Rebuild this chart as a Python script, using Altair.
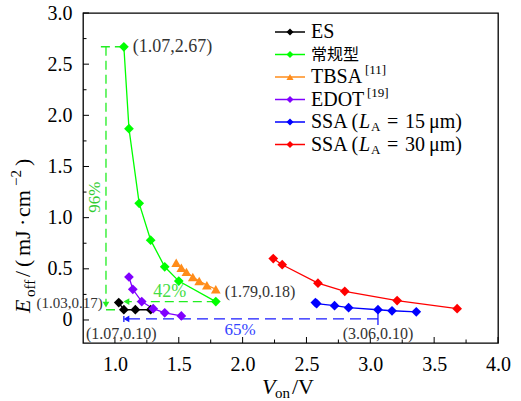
import altair as alt
import pandas as pd

# ---------------- data: turn-on voltage V_on (V) vs turn-off loss E_off (mJ/cm^2)
series_names = ["ES", "常规型", "TBSA", "EDOT", "SSA15", "SSA30"]
series_colors = ["#000000", "#00ff00", "#ff8c1a", "#8000ff", "#0000ff", "#ff0000"]
series_shapes = ["diamond", "diamond", "triangle-up", "diamond", "diamond", "diamond"]

es_von = [1.03, 1.07, 1.16, 1.28]
es_eoff = [0.17, 0.10, 0.10, 0.10]
conv_von = [1.07, 1.11, 1.19, 1.28, 1.39, 1.50, 1.79]
conv_eoff = [2.67, 1.87, 1.14, 0.78, 0.52, 0.38, 0.18]
tbsa_von = [1.48, 1.52, 1.56, 1.61, 1.66, 1.72, 1.79]
tbsa_eoff = [0.56, 0.51, 0.47, 0.42, 0.38, 0.34, 0.30]
edot_von = [1.11, 1.14, 1.21, 1.30, 1.39, 1.52]
edot_eoff = [0.42, 0.30, 0.18, 0.11, 0.07, 0.04]
ssa15_von = [2.57, 2.58, 2.72, 2.83, 3.06, 3.17, 3.36]
ssa15_eoff = [0.17, 0.16, 0.14, 0.12, 0.10, 0.09, 0.08]
ssa30_von = [2.24, 2.31, 2.59, 2.80, 3.21, 3.68]
ssa30_eoff = [0.60, 0.54, 0.36, 0.28, 0.19, 0.11]

x_ticks = [1.0, 1.5, 2.0, 2.5, 3.0, 3.5, 4.0]
x_minor = [1.25, 1.75, 2.25, 2.75, 3.25, 3.75]
y_ticks = [0.0, 0.5, 1.0, 1.5, 2.0, 2.5, 3.0]
y_minor = [0.25, 0.75, 1.25, 1.75, 2.25, 2.75]

# ---------------- layout
W, H = 415, 330
X_DOM = [0.75, 4.0]
Y_DOM = [-0.225, 3.0]
SERIF = "Liberation Serif"
CJK = "Noto Sans CJK SC"

xs = alt.Scale(domain=X_DOM, nice=False, zero=False)
ys = alt.Scale(domain=Y_DOM, nice=False, zero=False)

x_axis = alt.Axis(values=x_ticks, ticks=False, domain=False, grid=False, title=None,
                  labelFont=SERIF, labelFontSize=20, labelColor="#000", labelPadding=11,
                  labelOverlap=False, labelFlush=False, labelBound=False,
                  labelExpr="format(datum.value, '.1f')")
y_axis = alt.Axis(values=y_ticks, ticks=False, domain=False, grid=False, title=None,
                  labelFont=SERIF, labelFontSize=20, labelColor="#000", labelPadding=11,
                  labelOverlap=False, labelFlush=False, labelBound=False,
                  labelExpr="datum.value == 0 ? '0' : format(datum.value, '.1f')")


def px2x(px):
    return X_DOM[0] + px / W * (X_DOM[1] - X_DOM[0])


def px2y(py):
    return Y_DOM[1] - py / H * (Y_DOM[1] - Y_DOM[0])


def X(field):
    return alt.X(field, type="quantitative", scale=xs, axis=x_axis)


def Y(field):
    return alt.Y(field, type="quantitative", scale=ys, axis=y_axis)


rows = []
for name, v, e in [
    ("ES", es_von, es_eoff),
    ("常规型", conv_von, conv_eoff),
    ("TBSA", tbsa_von, tbsa_eoff),
    ("EDOT", edot_von, edot_eoff),
    ("SSA15", ssa15_von, ssa15_eoff),
    ("SSA30", ssa30_von, ssa30_eoff),
]:
    for i, (a, b) in enumerate(zip(v, e)):
        rows.append({"series": name, "von": a, "eoff": b, "k": i})
df = pd.DataFrame(rows)

color = alt.Color("series:N", scale=alt.Scale(domain=series_names, range=series_colors), legend=None)
shape = alt.Shape("series:N", scale=alt.Scale(domain=series_names, range=series_shapes), legend=None)

base = alt.Chart(df)
lines = base.mark_line(strokeWidth=1.3).encode(
    x=X("von"), y=Y("eoff"), color=color, detail="series:N", order="k:Q")
points = base.mark_point(filled=True, opacity=1, size=95).encode(
    x=X("von"), y=Y("eoff"), color=color, shape=shape)


# ---------------- inward ticks (major and minor)
def tick_layer(vals, axis, length):
    d = pd.DataFrame({"t": vals})
    if axis == "y":
        return alt.Chart(d).mark_rule(color="#000", strokeWidth=1).encode(
            y=Y("t"), x=alt.value(0), x2=alt.value(length))
    return alt.Chart(d).mark_rule(color="#000", strokeWidth=1).encode(
        x=X("t"), y=alt.value(H), y2=alt.value(H - length))


ticks = [tick_layer(y_ticks, "y", 6), tick_layer(y_minor, "y", 3.5),
         tick_layer(x_ticks, "x", 6), tick_layer(x_minor, "x", 3.5)]

# ---------------- reduction guides and arrows
green_dash = pd.DataFrame({
    "x": [0.89, 0.93, 0.93, 1.79],
    "x2": [1.07, 0.93, 1.07, 1.10],
    "y": [2.67, 2.67, 0.10, 0.18],
    "y2": [2.67, 0.16, 0.10, 0.18],
})
blue_dash = pd.DataFrame({"x": [3.06], "x2": [1.10], "y": [0.01], "y2": [0.01]})
blue_solid = pd.DataFrame({"x": [3.06, 1.07], "x2": [3.06, 1.07], "y": [0.10, -0.02], "y2": [-0.05, 0.04]})


def seg(d, col, dash=None, width=1.3):
    kw = dict(color=col, strokeWidth=width)
    if dash:
        kw["strokeDash"] = dash
    return alt.Chart(d).mark_rule(**kw).encode(x=X("x"), x2="x2:Q", y=Y("y"), y2="y2:Q")


guides = [
    seg(green_dash, "#22ee22", [9, 5]),
    seg(blue_dash, "#1a1aff", [11, 6]),
    seg(blue_solid, "#1a1aff"),
]

heads = pd.DataFrame({
    "x": [0.93, 1.09, 1.09],
    "y": [0.15, 0.18, 0.01],
    "shape": ["triangle-down", "triangle-left", "triangle-left"],
    "col": ["#22ee22", "#22ee22", "#1a1aff"],
})
arrowheads = alt.Chart(heads).mark_point(filled=True, opacity=1, size=45).encode(
    x=X("x"), y=Y("y"),
    shape=alt.Shape("shape:N", scale=None, legend=None),
    color=alt.Color("col:N", scale=None, legend=None))


# ---------------- value labels
def label(d, size, col, align="left", angle=0):
    kw = dict(font=SERIF, fontSize=size, color=col, align=align, baseline="middle")
    if angle:
        kw["angle"] = angle
    return alt.Chart(d).mark_text(**kw).encode(x=X("x"), y=Y("y"), text="t:N")


labels = [
    label(pd.DataFrame({"x": [1.14], "y": [2.67], "t": ["(1.07,2.67)"]}), 18, "#333"),
    label(pd.DataFrame({"x": [1.86], "y": [0.27], "t": ["(1.79,0.18)"]}), 16, "#333"),
    label(pd.DataFrame({"x": [0.905], "y": [0.17], "t": ["(1.03,0.17)"]}), 15, "#333", "right"),
    label(pd.DataFrame({"x": [1.05, 3.06], "y": [-0.14, -0.14], "t": ["(1.07,0.10)", "(3.06,0.10)"]}), 16, "#333", "center"),
    label(pd.DataFrame({"x": [1.43], "y": [0.27], "t": ["42%"]}), 18, "#44dd44", "center"),
    label(pd.DataFrame({"x": [1.98], "y": [-0.10], "t": ["65%"]}), 17, "#3344ff", "center"),
    label(pd.DataFrame({"x": [0.845], "y": [1.2], "t": ["96%"]}), 17, "#33cc33", "center", 270),
]

# ---------------- legend, laid out in plot pixels
leg_y0, leg_dy = 19, 22.5
leg_line = pd.DataFrame({
    "x": [px2x(192)] * 6, "x2": [px2x(222)] * 6, "xm": [px2x(207)] * 6,
    "y": [px2y(leg_y0 + i * leg_dy) for i in range(6)],
    "series": series_names,
})
leg_lines = alt.Chart(leg_line).mark_rule(strokeWidth=1.5).encode(
    x=X("x"), x2="x2:Q", y=Y("y"), color=color)
leg_marks = alt.Chart(leg_line).mark_point(filled=True, opacity=1, size=50).encode(
    x=X("xm"), y=Y("y"), color=color, shape=shape)

legend_text = [
    # (row, x px, text, style)
    (0, 228, "ES", "n"),
    (1, 228, "常规型", "c"),
    (2, 228, "TBSA", "n"), (2, 282, "[11]", "sup"),
    (3, 228, "EDOT", "n"), (3, 284, "[19]", "sup"),
    (4, 228, "SSA (", "n"), (4, 276, "L", "i"), (4, 288, "A", "sub"), (4, 304, "=", "n"),
    (4, 322, "15", "n"), (4, 346, "μm)", "n"),
    (5, 228, "SSA (", "n"), (5, 276, "L", "i"), (5, 288, "A", "sub"), (5, 304, "=", "n"),
    (5, 322, "30", "n"), (5, 346, "μm)", "n"),
]
styles = {
    "n": dict(font=SERIF, fontSize=20, dy=0),
    "c": dict(font=CJK, fontSize=16, dy=0),
    "i": dict(font=SERIF, fontSize=20, fontStyle="italic", dy=0),
    "sup": dict(font=SERIF, fontSize=13, dy=-7),
    "sub": dict(font=SERIF, fontSize=13, dy=5),
}
leg_txt = []
for st, kw in styles.items():
    part = [r for r in legend_text if r[3] == st]
    d = pd.DataFrame({
        "x": [px2x(r[1]) for r in part],
        "y": [px2y(leg_y0 + r[0] * leg_dy) for r in part],
        "t": [r[2] for r in part],
    })
    leg_txt.append(alt.Chart(d).mark_text(align="left", baseline="middle", color="#000", **kw).encode(
        x=X("x"), y=Y("y"), text="t:N"))

# ---------------- axis titles built from pieces (italic symbols, sub/superscripts)
xt = [(179, "V", "i"), (192, "on", "sub"), (209, "/V", "n")]
xt_styles = {
    "i": dict(fontSize=22, fontStyle="italic", dy=0),
    "sub": dict(fontSize=15, dy=4),
    "n": dict(fontSize=22, dy=0),
}
x_title = []
for st, kw in xt_styles.items():
    part = [r for r in xt if r[2] == st]
    d = pd.DataFrame({"x": [px2x(r[0]) for r in part], "y": [px2y(381)] * len(part), "t": [r[1] for r in part]})
    x_title.append(alt.Chart(d).mark_text(align="left", baseline="alphabetic", font=SERIF, color="#000", **kw).encode(
        x=X("x"), y=Y("y"), text="t:N"))

# rotated: each piece runs upward from y, with its baseline at x
yt = [(300, -53, "E", 22, "italic"), (284, -48, "off", 15, "normal"),
      (264, -53, "/", 22, "normal"), (254, -53, "(", 22, "normal"),
      (243, -53, "mJ", 22, "normal"), (213, -53, "·", 22, "normal"),
      (204, -53, "cm", 22, "normal"), (173, -62, "−2", 15, "normal"),
      (153, -53, ")", 22, "normal")]
y_title = []
for py, pxx, t, size, style in yt:
    d = pd.DataFrame({"x": [px2x(pxx)], "y": [px2y(py)], "t": [t]})
    y_title.append(alt.Chart(d).mark_text(align="left", baseline="alphabetic", angle=270, font=SERIF,
                                          fontSize=size, fontStyle=style, color="#000").encode(
        x=X("x"), y=Y("y"), text="t:N"))

chart = alt.layer(
    lines, *guides, arrowheads, points, *ticks, *labels,
    leg_lines, leg_marks, *leg_txt, *x_title, *y_title,
).properties(
    width=W, height=H,
    autosize=alt.AutoSizeParams(type="none"),
    padding={"left": 83, "top": 13, "right": 23, "bottom": 58},
).configure_view(stroke="#000", strokeWidth=1.3)

chart.save("out.html", embed_options={"renderer": "svg", "actions": False})
